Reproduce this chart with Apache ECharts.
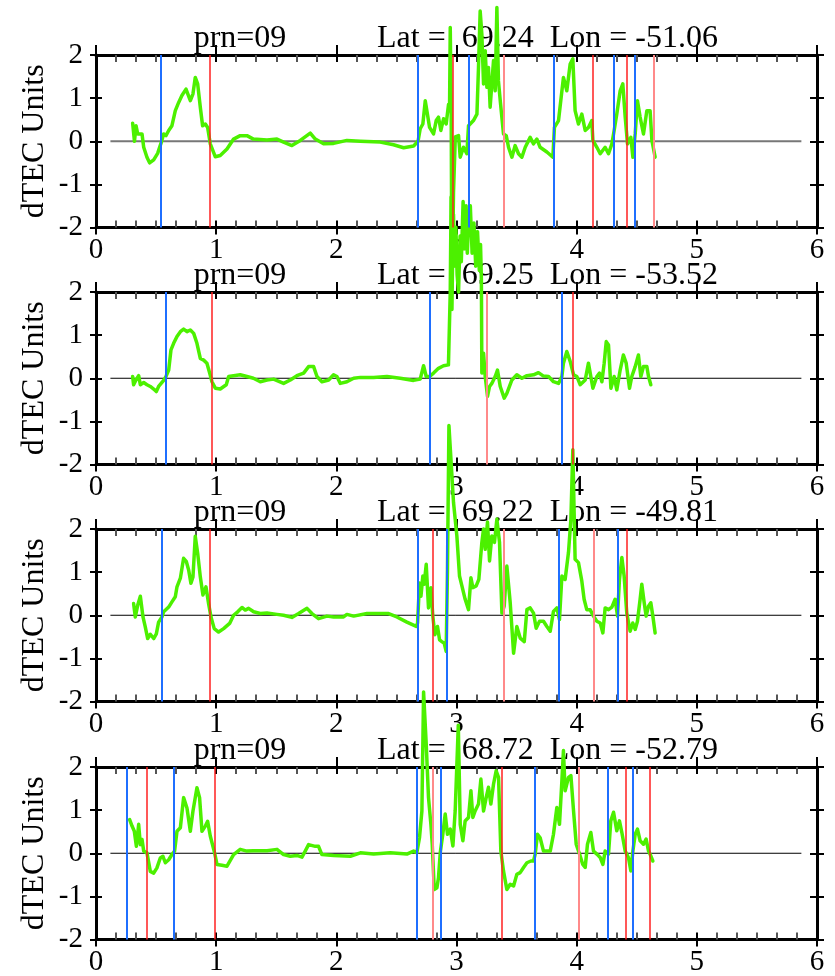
<!DOCTYPE html>
<html>
<head>
<meta charset="utf-8">
<script src="https://cdn.jsdelivr.net/npm/echarts@6/dist/echarts.min.js"></script>
<style>html,body{margin:0;padding:0;background:#fff;}#c{width:835px;height:976px;}</style>
</head>
<body>
<div id="c"></div>
<script>
// ---------- data ----------
const xTicks = [0, 1, 2, 3, 4, 5, 6];
const yTicks = [-2, -1, 0, 1, 2];
const prnLabels = ['prn=09', 'prn=09', 'prn=09', 'prn=09'];
const latLabels = ['69.24', '69.25', '69.22', '68.72'];
const lonLabels = ['-51.06', '-53.52', '-49.81', '-52.79'];

const dtec1 = [[0.305,0.42],[0.32,0.0],[0.333,0.36],[0.347,0.17],[0.363,0.13],[0.383,0.17],[0.397,-0.14],[0.424,-0.37],[0.446,-0.5],[0.48,-0.43],[0.513,-0.28],[0.544,-0.02],[0.563,0.17],[0.582,0.13],[0.605,0.25],[0.632,0.36],[0.66,0.71],[0.688,0.9],[0.715,1.06],[0.749,1.21],[0.785,0.94],[0.807,1.1],[0.826,1.48],[0.846,1.33],[0.868,0.79],[0.887,0.36],[0.91,0.4],[0.929,0.32],[0.951,-0.06],[0.993,-0.36],[1.034,-0.33],[1.09,-0.18],[1.145,0.05],[1.2,0.13],[1.256,0.13],[1.31,0.05],[1.423,0.03],[1.506,0.05],[1.561,-0.02],[1.63,-0.1],[1.70,0.02],[1.783,0.19],[1.825,0.05],[1.894,-0.06],[1.977,-0.05],[2.088,0.02],[2.2,0.0],[2.365,-0.02],[2.476,-0.08],[2.56,-0.15],[2.643,-0.11],[2.68,0.0],[2.698,0.29],[2.72,0.4],[2.74,0.94],[2.754,0.98],[2.776,0.32],[2.809,0.17],[2.831,0.48],[2.85,0.56],[2.87,0.25],[2.892,0.52],[2.914,0.4],[2.934,0.86],[2.942,0.71],[2.948,2.64],[2.956,0.6],[2.962,-3.9],[2.975,-1.2],[2.99,0.1],[3.017,0.13],[3.031,-0.37],[3.058,-0.14],[3.086,-0.29],[3.10,0.36],[3.114,0.4],[3.141,0.48],[3.17,0.63],[3.183,1.71],[3.197,3.02],[3.211,2.48],[3.225,1.33],[3.239,2.1],[3.253,1.25],[3.266,1.71],[3.28,0.79],[3.294,1.33],[3.308,1.87],[3.322,1.17],[3.336,3.1],[3.349,1.4],[3.364,0.94],[3.391,0.17],[3.414,0.13],[3.433,-0.14],[3.461,-0.37],[3.488,-0.1],[3.516,-0.29],[3.544,-0.37],[3.572,-0.14],[3.613,0.09],[3.641,-0.06],[3.669,0.05],[3.696,-0.14],[3.752,-0.25],[3.802,-0.37],[3.815,0.32],[3.849,0.48],[3.89,1.48],[3.918,1.17],[3.946,1.79],[3.968,1.91],[3.987,0.71],[4.015,0.4],[4.043,0.63],[4.071,0.25],[4.098,0.32],[4.126,0.48],[4.135,0.02],[4.168,-0.14],[4.196,-0.29],[4.237,-0.14],[4.265,-0.29],[4.293,-0.06],[4.312,0.25],[4.334,0.63],[4.362,1.17],[4.384,1.33],[4.404,0.56],[4.423,-0.06],[4.451,0.09],[4.468,-0.37],[4.487,0.17],[4.506,0.94],[4.528,0.56],[4.556,0.17],[4.584,0.71],[4.611,0.71],[4.626,0.02],[4.653,-0.37]];

const dtec2 = [[0.305,0.04],[0.313,-0.15],[0.333,-0.04],[0.355,0.06],[0.369,-0.15],[0.397,-0.1],[0.424,-0.15],[0.452,-0.19],[0.48,-0.25],[0.502,-0.31],[0.521,-0.19],[0.563,-0.05],[0.582,0.04],[0.605,0.19],[0.624,0.66],[0.646,0.81],[0.674,0.97],[0.702,1.08],[0.729,1.14],[0.757,1.08],[0.785,1.12],[0.813,1.04],[0.84,0.81],[0.868,0.46],[0.896,0.42],[0.923,0.35],[0.946,0.12],[0.965,-0.08],[0.993,-0.23],[1.034,-0.25],[1.084,-0.15],[1.104,0.04],[1.145,0.06],[1.2,0.08],[1.256,0.04],[1.31,0.0],[1.367,-0.08],[1.423,-0.04],[1.478,-0.02],[1.561,-0.12],[1.617,-0.04],[1.672,0.06],[1.728,0.12],[1.769,0.27],[1.811,0.27],[1.839,0.04],[1.88,-0.08],[1.936,-0.04],[1.977,0.08],[2.005,0.04],[2.033,-0.12],[2.088,-0.08],[2.144,0.0],[2.2,0.02],[2.31,0.02],[2.421,0.04],[2.532,0.0],[2.642,-0.05],[2.698,-0.02],[2.726,0.29],[2.748,0.04],[2.776,0.04],[2.809,0.12],[2.85,0.23],[2.892,0.29],[2.933,0.31],[2.948,2.0],[2.955,4.2],[2.965,3.0],[2.975,3.8],[2.985,2.6],[2.995,3.5],[3.005,2.4],[3.017,2.0],[3.03,3.3],[3.04,2.7],[3.055,4.1],[3.065,3.0],[3.08,4.0],[3.09,2.9],[3.1,3.6],[3.115,4.0],[3.13,2.9],[3.145,3.6],[3.16,2.6],[3.175,3.4],[3.19,2.5],[3.2,3.1],[3.207,2.3],[3.211,0.12],[3.225,0.58],[3.239,0.04],[3.258,-0.42],[3.275,-0.19],[3.294,-0.12],[3.322,0.04],[3.341,0.19],[3.364,-0.19],[3.397,-0.46],[3.419,-0.35],[3.461,-0.04],[3.502,0.08],[3.544,0.0],[3.586,0.06],[3.641,0.08],[3.682,0.13],[3.724,0.05],[3.766,0.04],[3.807,-0.08],[3.849,-0.12],[3.877,0.04],[3.89,0.35],[3.918,0.62],[3.946,0.39],[3.974,0.08],[4.002,0.04],[4.029,-0.15],[4.071,-0.04],[4.098,0.35],[4.112,0.37],[4.135,-0.23],[4.168,0.04],[4.19,0.12],[4.21,-0.08],[4.229,0.35],[4.246,0.85],[4.265,0.77],[4.285,-0.23],[4.312,0.04],[4.334,-0.27],[4.362,0.19],[4.389,0.54],[4.412,0.35],[4.44,-0.23],[4.459,0.04],[4.487,0.27],[4.514,0.54],[4.534,0.04],[4.556,0.27],[4.584,0.27],[4.598,0.04],[4.617,-0.15]];

const dtec3 = [[0.313,0.27],[0.327,-0.04],[0.347,0.23],[0.369,0.44],[0.391,-0.04],[0.41,-0.27],[0.43,-0.54],[0.452,-0.44],[0.48,-0.54],[0.502,-0.43],[0.521,-0.16],[0.549,-0.04],[0.563,0.08],[0.605,0.19],[0.632,0.31],[0.66,0.43],[0.674,0.66],[0.702,0.86],[0.729,1.32],[0.751,1.25],[0.771,1.05],[0.79,0.74],[0.807,0.89],[0.826,1.83],[0.846,1.44],[0.868,0.89],[0.89,0.47],[0.915,0.66],[0.937,0.27],[0.957,-0.04],[0.984,-0.31],[1.02,-0.39],[1.062,-0.31],[1.112,-0.19],[1.145,0.0],[1.179,0.08],[1.215,0.18],[1.242,0.12],[1.27,0.16],[1.312,0.08],[1.367,0.04],[1.423,0.05],[1.506,0.02],[1.561,0.0],[1.63,-0.05],[1.686,0.04],[1.756,0.16],[1.797,0.04],[1.852,-0.08],[1.922,-0.02],[1.977,-0.04],[2.06,-0.04],[2.088,0.02],[2.144,-0.02],[2.255,0.04],[2.365,0.04],[2.435,0.04],[2.504,-0.04],[2.587,-0.16],[2.665,-0.26],[2.676,-0.18],[2.692,0.75],[2.704,0.44],[2.72,0.91],[2.731,0.72],[2.748,1.18],[2.767,0.17],[2.787,0.64],[2.803,-0.02],[2.82,-0.45],[2.842,-0.26],[2.859,-0.57],[2.878,-0.61],[2.898,-0.65],[2.914,-0.84],[2.925,1.07],[2.937,4.4],[2.975,2.62],[3.003,1.84],[3.025,0.91],[3.045,0.68],[3.072,0.37],[3.1,0.13],[3.12,0.87],[3.136,0.64],[3.164,0.68],[3.186,0.83],[3.211,1.69],[3.225,2.0],[3.239,1.53],[3.258,2.16],[3.275,1.26],[3.294,1.84],[3.316,1.69],[3.336,2.23],[3.358,1.69],[3.378,0.05],[3.397,0.21],[3.419,1.14],[3.447,0.29],[3.475,-0.88],[3.502,-0.26],[3.53,-0.53],[3.564,-0.61],[3.586,0.13],[3.613,0.17],[3.641,0.05],[3.663,-0.3],[3.691,-0.14],[3.724,-0.14],[3.752,-0.26],[3.78,-0.37],[3.807,0.09],[3.835,0.17],[3.857,-0.1],[3.877,0.91],[3.904,0.83],[3.932,1.46],[3.952,2.23],[3.968,3.84],[3.987,1.3],[4.015,1.22],[4.043,0.79],[4.062,0.37],[4.084,0.13],[4.112,0.13],[4.14,-0.02],[4.168,-0.14],[4.196,-0.18],[4.218,-0.41],[4.237,0.17],[4.265,0.13],[4.293,0.19],[4.32,0.37],[4.34,-0.02],[4.356,0.83],[4.376,1.34],[4.395,0.91],[4.417,0.05],[4.445,-0.37],[4.467,-0.18],[4.487,-0.33],[4.506,-0.14],[4.528,0.37],[4.542,0.72],[4.562,0.29],[4.578,-0.02],[4.598,0.21],[4.617,0.29],[4.634,-0.02],[4.653,-0.41]];

const dtec4 = [[0.28,0.78],[0.3,0.63],[0.319,0.51],[0.336,0.16],[0.355,0.67],[0.369,0.2],[0.383,0.32],[0.397,0.05],[0.424,0.01],[0.452,-0.42],[0.48,-0.46],[0.507,-0.34],[0.535,-0.11],[0.557,-0.07],[0.577,-0.22],[0.605,-0.15],[0.632,-0.03],[0.654,0.05],[0.674,0.51],[0.702,0.59],[0.729,1.29],[0.757,1.05],[0.785,0.51],[0.807,0.98],[0.84,1.52],[0.862,1.29],[0.882,0.51],[0.91,0.63],[0.929,0.74],[0.951,0.4],[0.987,0.01],[1.007,-0.26],[1.048,-0.28],[1.09,-0.3],[1.145,-0.03],[1.2,0.09],[1.256,0.05],[1.31,0.06],[1.423,0.06],[1.506,0.09],[1.561,-0.03],[1.617,-0.07],[1.672,-0.05],[1.714,-0.09],[1.741,0.05],[1.769,0.2],[1.825,0.16],[1.852,0.16],[1.88,-0.03],[1.977,-0.05],[2.116,-0.07],[2.2,0.01],[2.31,-0.02],[2.449,0.01],[2.587,-0.02],[2.643,0.05],[2.67,0.01],[2.692,0.36],[2.712,0.98],[2.726,3.74],[2.748,2.53],[2.767,1.29],[2.787,0.67],[2.798,0.21],[2.815,-0.84],[2.837,-0.8],[2.85,-0.57],[2.865,0.02],[2.886,0.44],[2.906,0.91],[2.925,0.44],[2.948,0.56],[2.97,0.17],[2.989,0.98],[3.015,2.97],[3.031,0.67],[3.053,0.29],[3.072,0.75],[3.1,0.83],[3.12,1.45],[3.136,0.83],[3.155,0.98],[3.183,1.14],[3.203,1.72],[3.225,0.98],[3.247,1.29],[3.266,1.53],[3.286,1.14],[3.308,1.6],[3.33,1.91],[3.35,1.76],[3.369,0.05],[3.391,-0.41],[3.419,-0.84],[3.447,-0.72],[3.475,-0.76],[3.502,-0.49],[3.53,-0.45],[3.558,-0.33],[3.586,-0.22],[3.619,-0.18],[3.641,-0.18],[3.655,-0.02],[3.674,0.44],[3.696,0.36],[3.724,0.05],[3.78,0.05],[3.807,0.44],[3.835,1.06],[3.857,0.67],[3.877,1.68],[3.89,2.38],[3.904,1.45],[3.932,1.76],[3.952,1.8],[3.974,0.98],[3.996,0.21],[4.024,-0.02],[4.051,-0.26],[4.071,-0.33],[4.09,0.21],[4.118,0.48],[4.14,0.05],[4.168,-0.02],[4.196,-0.1],[4.218,-0.26],[4.237,0.05],[4.265,-0.02],[4.284,0.75],[4.307,0.95],[4.334,0.52],[4.356,0.75],[4.376,0.48],[4.404,0.05],[4.431,-0.1],[4.451,-0.41],[4.468,0.05],[4.487,0.44],[4.506,0.56],[4.528,0.29],[4.556,0.21],[4.578,0.33],[4.598,0.05],[4.617,-0.06],[4.634,-0.18]];

// vertical event markers (hours)
const blue1 = [0.543, 2.684, 3.10, 3.815, 4.31, 4.48];
const red1 = [0.954, 2.967, 4.135, 4.42];
const redLight1 = [3.394, 4.64];
const blue2 = [0.582, 2.776, 3.885];
const red2 = [0.962, 3.974];
const redLight2 = [3.247];
const blue3 = [0.549, 2.676, 2.92, 3.855, 4.34];
const red3 = [0.951, 2.80, 4.42];
const redLight3 = [3.386, 4.137];
const blue4 = [0.258, 0.654, 2.67, 2.865, 3.655, 4.265, 4.468];
const red4 = [0.424, 0.987, 3.378, 4.406, 4.614];
const redLight4 = [2.798, 4.021];

const zeroLine = [[0.12, 0], [5.87, 0]];

// ---------- build ----------
const series = [dtec1, dtec2, dtec3, dtec4];
const blues = [blue1, blue2, blue3, blue4];
const reds = [red1, red2, red3, red4];
const redLights = [redLight1, redLight2, redLight3, redLight4];

const FONT = "'Liberation Serif', 'Times New Roman', Times, serif";
const TOPS = [55, 292, 529, 767];
const H = 172.5;
const GREEN = '#4cf000';
const BLUE = '#1f6fff';
const RED = '#ff2020';
const RED_LIGHT = '#ff8a8a';

const grids = [], xAxes = [], yAxes = [], seriesOpt = [], graphics = [];

TOPS.forEach((top, i) => {
  grids.push({ left: 96, right: 18, top: top, height: H, containLabel: false, outerBoundsMode: 'none' });
  const bx = { type: 'value', gridIndex: i, min: xTicks[0], max: xTicks[xTicks.length - 1], interval: 1, splitLine: { show: false } };
  const by = { type: 'value', gridIndex: i, min: yTicks[0], max: yTicks[yTicks.length - 1], interval: 1, splitLine: { show: false } };
  const tickStyle = { color: '#000', width: 2 };
  const minor = { show: true, splitNumber: 6, length: 7, lineStyle: { color: '#555', width: 2 } };
  const xi = xAxes.length;
  xAxes.push(Object.assign({}, bx, { position: 'bottom',
    axisLine: { show: true, onZero: false, lineStyle: { color: '#000', width: 3 } },
    axisTick: { show: true, inside: true, length: 7, lineStyle: tickStyle },
    minorTick: minor,
    axisLabel: { show: true, fontSize: 29, fontFamily: FONT, color: '#000', margin: 8 } }));
  xAxes.push(Object.assign({}, bx, { position: 'bottom',
    axisLine: { show: false, onZero: false }, axisTick: { show: true, inside: false, length: 7, lineStyle: tickStyle },
    axisLabel: { show: false } }));
  xAxes.push(Object.assign({}, bx, { position: 'top',
    axisLine: { show: true, onZero: false, lineStyle: { color: '#000', width: 3 } },
    axisTick: { show: true, inside: true, length: 7, lineStyle: tickStyle },
    minorTick: minor, axisLabel: { show: false } }));
  xAxes.push(Object.assign({}, bx, { position: 'top',
    axisLine: { show: false, onZero: false }, axisTick: { show: true, inside: false, length: 10, lineStyle: tickStyle },
    axisLabel: { show: false } }));

  const yi = yAxes.length;
  yAxes.push(Object.assign({}, by, { position: 'left',
    axisLine: { show: true, onZero: false, lineStyle: { color: '#000', width: 3 } },
    axisTick: { show: true, inside: true, length: 6, lineStyle: tickStyle },
    axisLabel: { show: true, fontSize: 29, fontFamily: FONT, color: '#000', margin: 13 } }));
  yAxes.push(Object.assign({}, by, { position: 'left',
    axisLine: { show: false, onZero: false }, axisTick: { show: true, inside: false, length: 6, lineStyle: tickStyle },
    axisLabel: { show: false } }));
  yAxes.push(Object.assign({}, by, { position: 'right',
    axisLine: { show: true, onZero: false, lineStyle: { color: '#000', width: 3 } },
    axisTick: { show: true, inside: true, length: 7, lineStyle: tickStyle },
    axisLabel: { show: false } }));
  yAxes.push(Object.assign({}, by, { position: 'right',
    axisLine: { show: false, onZero: false }, axisTick: { show: true, inside: false, length: 7, lineStyle: tickStyle },
    axisLabel: { show: false } }));

  const mk = [];
  blues[i].forEach(x => mk.push({ xAxis: x, lineStyle: { color: BLUE, width: 2, type: 'solid' } }));
  reds[i].forEach(x => mk.push({ xAxis: x, lineStyle: { color: RED, width: 1.5, type: 'solid' } }));
  redLights[i].forEach(x => mk.push({ xAxis: x, lineStyle: { color: RED_LIGHT, width: 2, type: 'solid' } }));

  seriesOpt.push({
    type: 'line', xAxisIndex: xi, yAxisIndex: yi, data: zeroLine, symbol: 'none', silent: true, z: 1,
    lineStyle: { color: i === 0 ? '#777' : '#000', width: i === 0 ? 2 : 1 },
    markLine: { silent: true, symbol: ['none', 'none'], label: { show: false }, animation: false,
      lineStyle: { type: 'solid' }, emphasis: { disabled: true }, data: mk }
  });
  seriesOpt.push({
    type: 'line', xAxisIndex: xi, yAxisIndex: yi, data: series[i], symbol: 'none', showSymbol: false,
    clip: false, silent: true, z: 3,
    lineStyle: { color: GREEN, width: 3.5, join: 'round', cap: 'round' }
  });

  graphics.push({ type: 'text', x: 240, y: top - 16, z: 0,
    style: { text: prnLabels[i], fontSize: 32, fontFamily: FONT, fill: '#000',
      align: 'center', verticalAlign: 'middle', textAlign: 'center', textVerticalAlign: 'middle' } });
  graphics.push({ type: 'text', x: 377, y: top - 16, z: 0,
    style: { text: 'Lat =  ' + latLabels[i] + '  Lon = ' + lonLabels[i], fontSize: 32, fontFamily: FONT, fill: '#000',
      align: 'left', verticalAlign: 'middle', textAlign: 'left', textVerticalAlign: 'middle' } });
  graphics.push({ type: 'text', x: 35, y: top + H / 2, rotation: Math.PI / 2, z: 0,
    style: { text: 'dTEC Units', fontSize: 32, fontFamily: FONT, fill: '#000',
      align: 'center', verticalAlign: 'middle', textAlign: 'center', textVerticalAlign: 'middle' } });
});

const chart = echarts.init(document.getElementById('c'), null, { renderer: 'canvas' });
chart.setOption({
  animation: false,
  backgroundColor: '#fff',
  grid: grids,
  xAxis: xAxes,
  yAxis: yAxes,
  series: seriesOpt,
  graphic: graphics
});
</script>
</body>
</html>
